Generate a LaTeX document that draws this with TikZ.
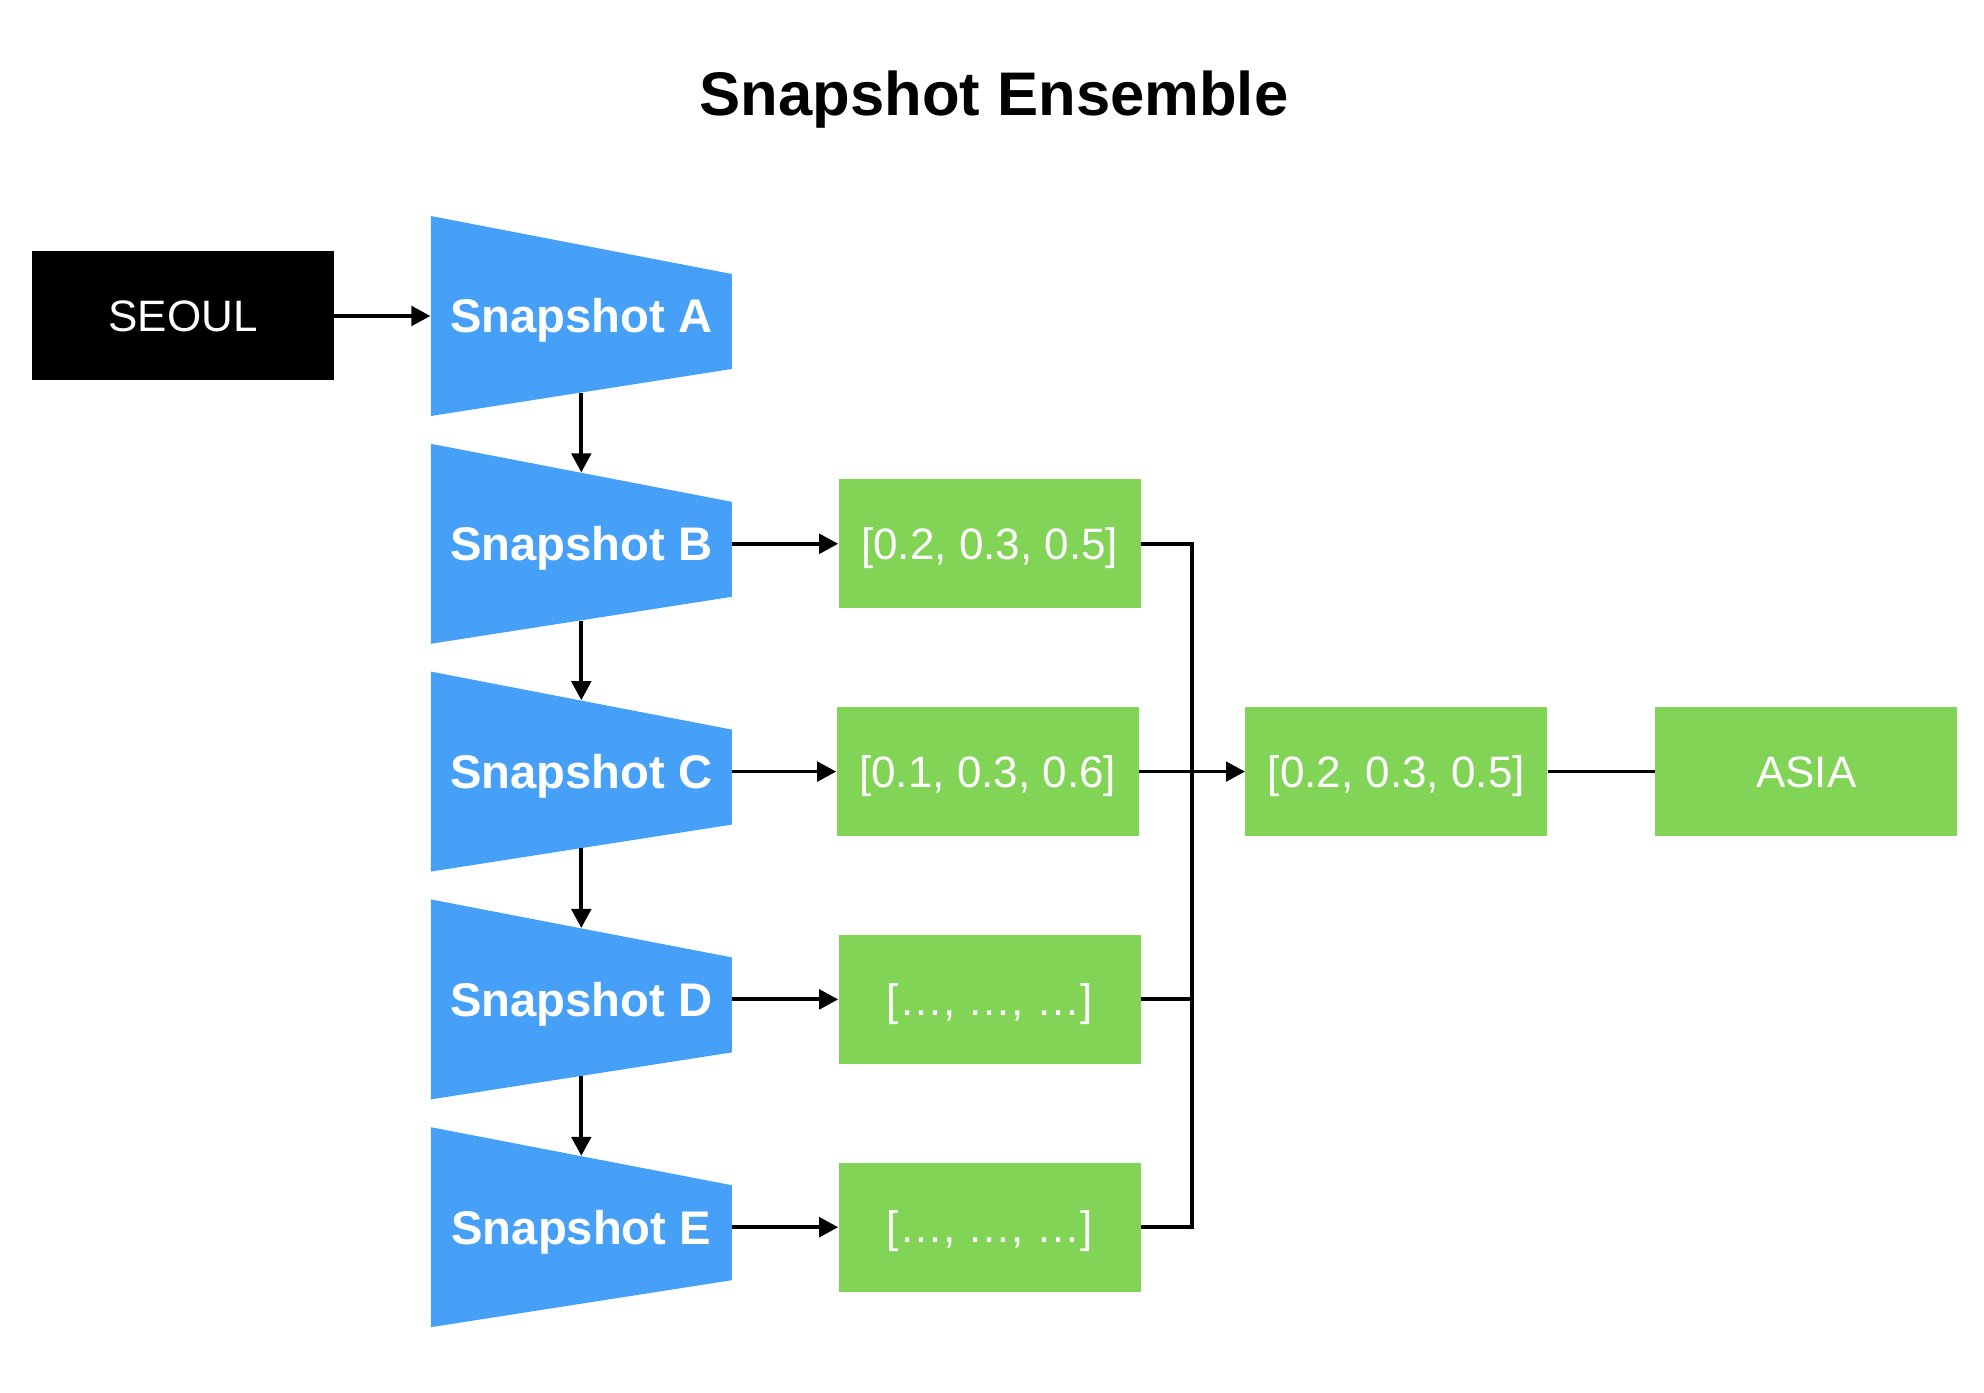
\documentclass[tikz,border=0pt]{standalone}
\usepackage{fontspec}
\setmainfont{Liberation Sans}
\usetikzlibrary{arrows.meta, positioning}
\definecolor{snapBlue}{HTML}{46A0F8}
\definecolor{predGreen}{HTML}{82D457}
\tikzset{
  arrowK/.style={-{Triangle[length=9.5pt, width=9.7pt]}, black, line width=1.9pt},
  lineK/.style={black, line width=1.9pt},
  boxInput/.style={rectangle, fill=black, text=white, inner sep=0pt,
                   minimum width=151pt, minimum height=64.5pt,
                   text height=15.75pt, text depth=0pt,
                   font=\fontsize{22}{26}\selectfont},
  boxPred/.style={rectangle, fill=predGreen, text=white, inner sep=0pt,
                  minimum width=151pt, minimum height=64.5pt,
                  text height=15.75pt, text depth=0pt,
                  font=\fontsize{22}{26}\selectfont},
  snapBox/.style={rectangle, inner sep=0pt, minimum width=150.5pt, minimum height=100pt,
                  text height=16.9pt, text depth=0pt,
                  text=white, font=\bfseries\fontsize{23.6}{28}\selectfont,
                  path picture={
                    \fill[snapBlue] ([shift={(-75.25pt,50pt)}]path picture bounding box.center)
                      -- ([shift={(75.25pt,21pt)}]path picture bounding box.center)
                      -- ([shift={(75.25pt,-26.5pt)}]path picture bounding box.center)
                      -- ([shift={(-75.25pt,-50pt)}]path picture bounding box.center) -- cycle;}},
}

\begin{document}
\begin{tikzpicture}[x=1pt, y=1pt, node distance=13.5pt and 48pt]
  \useasboundingbox (0,0) rectangle (992,696);
  \node[anchor=base, font=\bfseries\fontsize{30.8}{36}\selectfont] (title) at (497,638) {Snapshot Ensemble};

  % input and snapshots
  \node[boxInput] (seoul) at (91.5,538) {SEOUL};
  \node[snapBox, right=48pt of seoul] (snapA) {Snapshot A};
  \node[snapBox, below=of snapA] (snapB) {Snapshot B};
  \node[snapBox, below=of snapB] (snapC) {Snapshot C};
  \node[snapBox, below=of snapC] (snapD) {Snapshot D};
  \node[snapBox, below=of snapD] (snapE) {Snapshot E};

  % predictions
  \node[boxPred, right=53pt of snapB] (predB) {[0.2, 0.3, 0.5]};
  \node[boxPred, right=52pt of snapC] (predC) {[0.1, 0.3, 0.6]};
  \node[boxPred, right=53pt of snapD] (predD) {[…, …, …]};
  \node[boxPred, right=53pt of snapE] (predE) {[…, …, …]};
  \node[boxPred, right=53pt of predC] (avg) {[0.2, 0.3, 0.5]};
  \node[boxPred, right=53.5pt of avg] (asia) {ASIA};

  \coordinate[right=25.5pt of predB] (busTop);
  \coordinate[right=25.5pt of predE] (busBot);

  % connectors
  \draw[arrowK] (seoul) -- (snapA);
  \draw[arrowK] ([yshift=11.75pt]snapA.south) -- ([yshift=-14.5pt]snapB.north);
  \draw[arrowK] ([yshift=11.75pt]snapB.south) -- ([yshift=-14.5pt]snapC.north);
  \draw[arrowK] ([yshift=11.75pt]snapC.south) -- ([yshift=-14.5pt]snapD.north);
  \draw[arrowK] ([yshift=11.75pt]snapD.south) -- ([yshift=-14.5pt]snapE.north);
  \draw[arrowK] (snapB.east) -- (predB.west);
  \draw[arrowK] (snapC.east) -- (predC.west);
  \draw[arrowK] (snapD.east) -- (predD.west);
  \draw[arrowK] (snapE.east) -- (predE.west);
  \draw[lineK] (predB.east) -- (busTop) -- (busBot) -- (predE.east);
  \draw[lineK] (predD.east) -- (predD.east -| busTop);
  \draw[arrowK] (predC.east) -- (avg.west);
  \draw[lineK] (avg) -- (asia);
\end{tikzpicture}
\end{document}
